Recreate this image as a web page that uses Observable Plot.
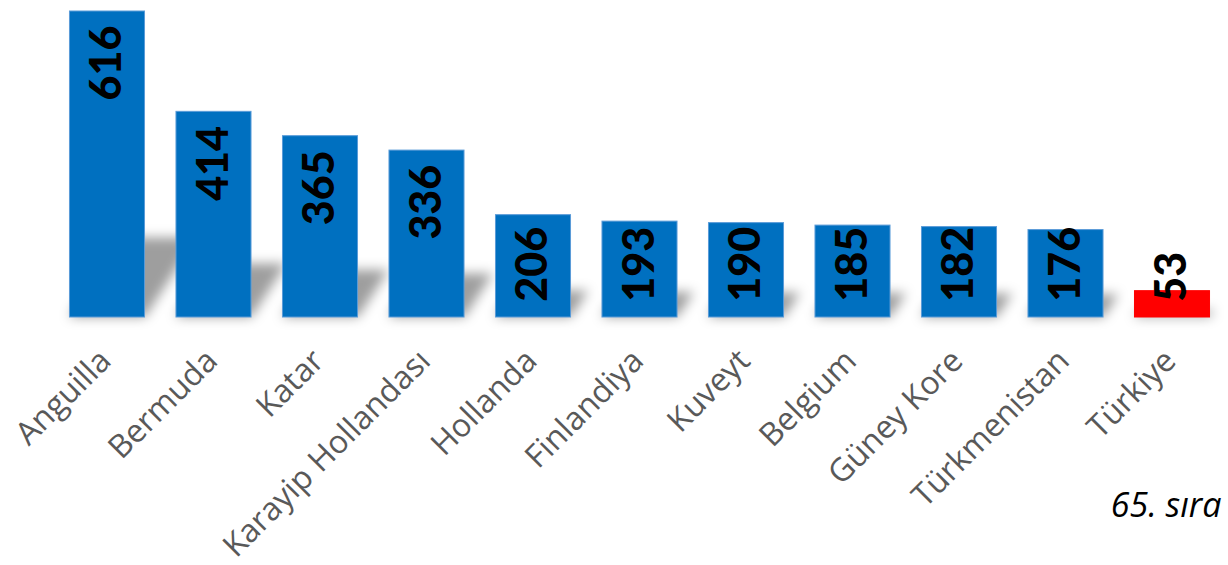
<!DOCTYPE html>
<html>
<head>
<meta charset="utf-8">
<script src="https://cdn.jsdelivr.net/npm/d3@7"></script>
<script src="https://cdn.jsdelivr.net/npm/@observablehq/plot@0.6"></script>
<style>
  html, body { margin: 0; padding: 0; background: #fff; }
  #chart { position: relative; width: 1228px; height: 565px; }
</style>
</head>
<body>
<div id="chart"></div>
<script>
const countries = ["Anguilla","Bermuda","Katar","Karayip Hollandası","Hollanda","Finlandiya","Kuveyt","Belgium","Güney Kore","Türkmenistan","Türkiye"];
const values = [616,414,365,336,206,193,190,185,182,176,53];
const highlight = "Türkiye";
const rankNote = "65. sıra";

const data = countries.map((c, i) => ({country: c, value: values[i]}));

const chart = Plot.plot({
  width: 1228,
  height: 565,
  marginTop: 11,
  marginBottom: 248,
  marginLeft: 53,
  marginRight: 2,
  style: {background: "#fff", overflow: "visible"},
  x: {domain: countries, paddingInner: 0.286, paddingOuter: 0.15, round: false, label: null},
  y: {domain: [0, 616], axis: null},
  marks: [
    Plot.barY(data, {x: "country", y: "value", fill: "#000000", fillOpacity: 0.38}),
    Plot.barY(data, {x: "country", y: "value", fill: d => d.country === highlight ? "#FF0000" : "#0070C0", stroke: d => d.country === highlight ? "#FF0000" : "#5A9BD8", strokeWidth: 1, insetLeft: 0.5, insetRight: 0.5}),
    Plot.text(data, {
      x: "country", y: d => Math.max(d.value, 211), text: d => String(d.value),
      rotate: -90, textAnchor: "start", lineAnchor: "middle", dy: 89,
      fontFamily: "Lato", fontWeight: 900, fontSize: 43, fill: "#000"
    }),
    Plot.axisX({
      tickSize: 0, tickPadding: 38, tickRotate: -45, fontSize: 32,
      fontFamily: "Open Sans", fill: "#595959", label: null, dx: -2
    }),
    Plot.text([rankNote], {
      frameAnchor: "bottom-right", textAnchor: "end", lineAnchor: "middle",
      dx: -5, dy: 189, fontFamily: "Open Sans", fontStyle: "italic", fontSize: 34, fill: "#000"
    })
  ]
});

const svg = d3.select(chart);
const defs = svg.insert("defs", ":first-child");
defs.append("filter").attr("id", "shadowBlur")
  .attr("filterUnits", "userSpaceOnUse").attr("x", 0).attr("y", 0).attr("width", 1228).attr("height", 565)
  .append("feGaussianBlur").attr("stdDeviation", 6);
const base = 317;
const shadowNode = svg.selectAll("g").filter(function() { return this.getAttribute("fill") === "#000000"; }).node();
if (shadowNode) {
  const wrapper = document.createElementNS("http://www.w3.org/2000/svg", "g");
  wrapper.setAttribute("filter", "url(#shadowBlur)");
  shadowNode.parentNode.insertBefore(wrapper, shadowNode);
  wrapper.appendChild(shadowNode);
  shadowNode.setAttribute("transform", `translate(0,${base}) matrix(1,0,-0.17,0.26,0,0) translate(0,${-base})`);
}

document.getElementById("chart").appendChild(chart);
</script>
</body>
</html>
